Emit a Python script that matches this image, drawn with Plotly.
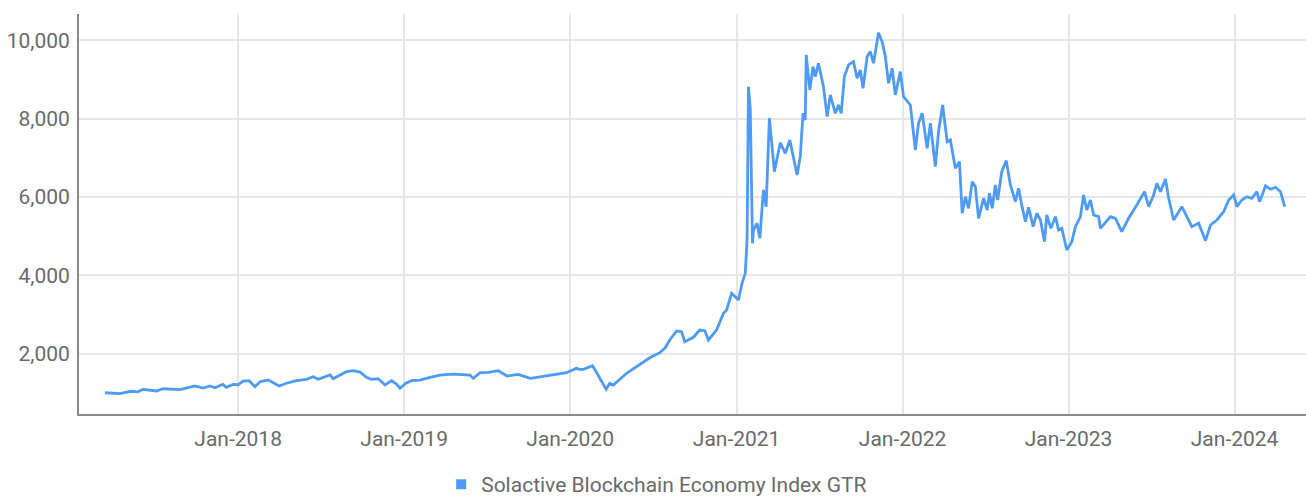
import plotly.graph_objects as go

SERIES_NAME = "Solactive Blockchain Economy Index GTR"

dates = [
    "2017-03-14", "2017-03-28", "2017-04-16", "2017-05-10", "2017-05-25", "2017-06-06",
    "2017-07-05", "2017-07-20", "2017-08-26", "2017-09-28", "2017-10-16", "2017-10-31",
    "2017-11-11", "2017-11-28", "2017-12-06", "2017-12-21", "2018-01-01", "2018-01-12",
    "2018-01-25", "2018-02-07", "2018-02-18", "2018-03-08", "2018-04-01", "2018-04-17",
    "2018-05-09", "2018-05-31", "2018-06-15", "2018-06-26", "2018-07-22", "2018-07-29",
    "2018-08-13", "2018-08-27", "2018-09-11", "2018-09-26", "2018-10-10", "2018-10-21",
    "2018-11-05", "2018-11-20", "2018-12-04", "2018-12-15", "2018-12-23", "2019-01-04",
    "2019-01-17", "2019-02-05", "2019-02-27", "2019-03-21", "2019-04-08", "2019-04-19",
    "2019-05-26", "2019-06-02", "2019-06-17", "2019-07-05", "2019-07-27", "2019-08-15",
    "2019-09-09", "2019-10-05", "2019-10-20", "2019-11-10", "2019-12-02", "2019-12-24",
    "2020-01-15", "2020-01-22", "2020-01-30", "2020-02-19", "2020-02-29", "2020-03-20",
    "2020-03-28", "2020-04-05", "2020-05-04", "2020-06-10", "2020-06-25", "2020-07-16",
    "2020-07-28", "2020-08-07", "2020-08-22", "2020-09-02", "2020-09-09", "2020-09-28",
    "2020-10-12", "2020-10-23", "2020-10-31", "2020-11-18", "2020-12-03", "2020-12-10",
    "2020-12-21", "2020-12-29", "2021-01-05", "2021-01-13", "2021-01-20", "2021-01-24",
    "2021-01-27", "2021-01-31", "2021-02-05", "2021-02-07", "2021-02-15", "2021-02-21",
    "2021-02-26", "2021-03-01", "2021-03-07", "2021-03-14", "2021-03-20", "2021-03-25",
    "2021-04-07", "2021-04-18", "2021-04-28", "2021-05-14", "2021-05-21", "2021-05-27",
    "2021-06-01", "2021-06-03", "2021-06-11", "2021-06-18", "2021-06-23", "2021-06-30",
    "2021-07-11", "2021-07-19", "2021-07-26", "2021-08-06", "2021-08-13", "2021-08-19",
    "2021-08-26", "2021-09-04", "2021-09-15", "2021-09-23", "2021-09-30", "2021-10-06",
    "2021-10-15", "2021-10-22", "2021-10-29", "2021-11-09", "2021-11-17", "2021-11-24",
    "2021-12-01", "2021-12-09", "2021-12-16", "2021-12-27", "2022-01-03", "2022-01-14",
    "2022-01-18", "2022-01-25", "2022-01-29", "2022-02-05", "2022-02-13", "2022-02-24",
    "2022-03-03", "2022-03-14", "2022-03-21", "2022-03-30", "2022-04-09", "2022-04-16",
    "2022-04-27", "2022-05-06", "2022-05-12", "2022-05-19", "2022-05-26", "2022-06-03",
    "2022-06-10", "2022-06-17", "2022-06-28", "2022-07-06", "2022-07-11", "2022-07-17",
    "2022-07-24", "2022-07-29", "2022-08-07", "2022-08-17", "2022-08-26", "2022-09-06",
    "2022-09-13", "2022-09-20", "2022-09-28", "2022-10-05", "2022-10-15", "2022-10-23",
    "2022-10-31", "2022-11-09", "2022-11-14", "2022-11-23", "2022-12-03", "2022-12-10",
    "2022-12-17", "2022-12-28", "2023-01-08", "2023-01-16", "2023-01-27", "2023-02-03",
    "2023-02-10", "2023-02-18", "2023-02-25", "2023-03-08", "2023-03-12", "2023-04-03",
    "2023-04-14", "2023-04-28", "2023-05-13", "2023-05-31", "2023-06-17", "2023-06-26",
    "2023-07-07", "2023-07-14", "2023-07-22", "2023-08-02", "2023-08-09", "2023-08-20",
    "2023-08-27", "2023-09-07", "2023-09-18", "2023-09-29", "2023-10-14", "2023-10-29",
    "2023-11-09", "2023-11-23", "2023-12-08", "2023-12-19", "2023-12-30", "2024-01-06",
    "2024-01-17", "2024-01-28", "2024-02-08", "2024-02-19", "2024-02-25", "2024-03-09",
    "2024-03-20", "2024-03-31", "2024-04-11", "2024-04-20",
]

index_values = [
    1003, 990, 978, 1040, 1025, 1090,
    1047, 1105, 1080, 1175, 1124, 1175,
    1130, 1217, 1140, 1217, 1207, 1302,
    1310, 1157, 1285, 1327, 1175, 1245,
    1310, 1345, 1412, 1345, 1455, 1360,
    1455, 1540, 1565, 1532, 1396, 1345,
    1360, 1200, 1310, 1225, 1115, 1240,
    1310, 1327, 1396, 1455, 1473, 1480,
    1455, 1370, 1515, 1520, 1565, 1430,
    1473, 1370, 1395, 1430, 1473, 1515,
    1626, 1600, 1600, 1692, 1500, 1090,
    1245, 1200, 1500, 1795, 1900, 2025,
    2150, 2350, 2578, 2561, 2306, 2418,
    2604, 2586, 2350, 2604, 3030, 3115,
    3540, 3455, 3370, 3800, 4050, 4902,
    8815, 8264, 4817, 5157, 5328, 4945,
    5668, 6178, 5752, 8009, 7284, 6645,
    7386, 7115, 7455, 6561, 7028, 8136,
    7965, 9625, 8731, 9326, 9071, 9413,
    8815, 8050, 8604, 8136, 8348, 8136,
    9071, 9370, 9454, 9030, 9242, 8775,
    9583, 9710, 9413, 10194, 9964, 9583,
    8902, 9285, 8604, 9199, 8560, 8392,
    8348, 7626, 7199, 7881, 8136, 7243,
    7881, 6773, 7667, 8348, 7411, 7455,
    6732, 6901, 5583, 6007, 5710, 6390,
    6263, 5455, 5966, 5668, 6093, 5710,
    6305, 5923, 6645, 6927, 6305, 5880,
    6222, 5795, 5369, 5736, 5242, 5583,
    5412, 4858, 5540, 5200, 5497, 5157,
    5200, 4647, 4858, 5242, 5497, 6051,
    5668, 5923, 5540, 5497, 5200, 5497,
    5455, 5114, 5455, 5795, 6135, 5752,
    6051, 6349, 6135, 6459, 5966, 5412,
    5540, 5752, 5497, 5242, 5328, 4884,
    5285, 5412, 5624, 5923, 6051, 5752,
    5923, 6007, 5966, 6135, 5880, 6280,
    6196, 6247, 6135, 5752,
]

tick_dates = ["2018-01-01", "2019-01-01", "2020-01-01", "2021-01-01",
              "2022-01-01", "2023-01-01", "2024-01-01"]
tick_labels = ["Jan-2018", "Jan-2019", "Jan-2020", "Jan-2021",
               "Jan-2022", "Jan-2023", "Jan-2024"]
y_ticks = [2000, 4000, 6000, 8000, 10000]

LINE_COLOR = "#4e9bf7"
TEXT_COLOR = "#6a6a6a"
FONT = "Roboto, Arial, sans-serif"
FS = 21

fig = go.Figure()
fig.add_trace(go.Scatter(
    x=dates, y=index_values, mode="lines",
    line=dict(color=LINE_COLOR, width=2.8),
    name=SERIES_NAME, showlegend=False,
))
# legend entry drawn as a square swatch
fig.add_trace(go.Scatter(
    x=[None], y=[None], mode="markers",
    marker=dict(symbol="square", size=10, color=LINE_COLOR),
    name=SERIES_NAME, showlegend=True,
))

fig.update_layout(
    width=1306, height=498,
    margin=dict(l=79, r=0, t=14, b=84, autoexpand=False),
    paper_bgcolor="white", plot_bgcolor="white",
    font=dict(family=FONT, size=FS, color=TEXT_COLOR),
    legend=dict(
        orientation="h", xref="container", yref="container",
        x=0.3378, xanchor="left", y=0.068, yanchor="top",
        font=dict(family=FONT, size=FS, color=TEXT_COLOR),
        bgcolor="rgba(0,0,0,0)",
    ),
    xaxis=dict(
        type="date", range=["2017-01-16", "2024-06-06"],
        tickvals=tick_dates, ticktext=tick_labels,
        showgrid=True, gridcolor="#e6e6e6", gridwidth=2,
        showline=True, linecolor="#8a8a8a", linewidth=2,
        ticks="", zeroline=False, ticklabelstandoff=5,
        automargin=False,
        tickfont=dict(family=FONT, size=FS, color=TEXT_COLOR),
    ),
    yaxis=dict(
        range=[460, 10670], tickvals=y_ticks, tickformat=",d",
        showgrid=True, gridcolor="#e6e6e6", gridwidth=2,
        showline=True, linecolor="#8a8a8a", linewidth=2,
        ticks="", zeroline=False, ticklabelstandoff=3,
        automargin=False,
        tickfont=dict(family=FONT, size=FS, color=TEXT_COLOR),
    ),
)

fig.write_html(
    "out.html",
    config={"displayModeBar": False},
    post_script="document.body.style.margin='0';document.body.style.overflow='hidden';",
)
